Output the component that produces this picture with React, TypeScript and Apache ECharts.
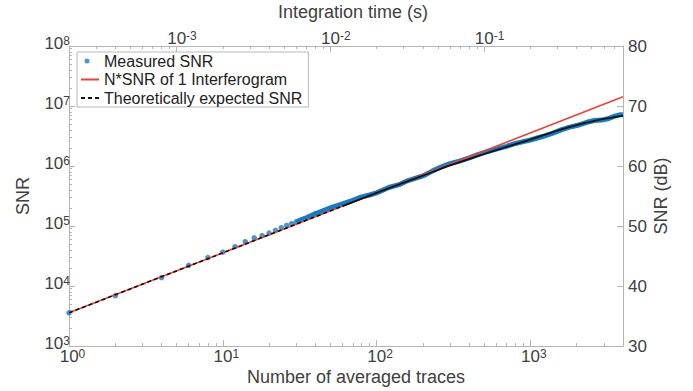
import React, { useEffect, useRef } from "react";
import * as echarts from "echarts";

// ---- data ----
const sparseTraces = [1, 2, 4, 6, 8, 10, 12, 14, 16, 18, 20, 22, 24, 26, 28, 30, 32, 34, 36, 38, 40];
const sparseSnr = [3570, 6900, 13800, 22100, 29800, 36600, 45200, 54700, 63500, 69000, 76200, 84500, 93800, 102000, 110000, 117500, 125000, 133000, 141000, 150000, 160000];

const denseTraces = [30, 35, 40, 50, 60, 70, 80, 90, 100, 120, 140, 160, 180, 200, 230, 260, 300, 350, 400, 450, 500, 600, 700, 800, 900, 1000, 1200, 1400, 1600, 1800, 2000, 2300, 2600, 2900, 3200, 3500, 3800, 4000];
const denseSnr = [117500, 136900, 160200, 200300, 234800, 267900, 306200, 328700, 357000, 438300, 488300, 571200, 627800, 681900, 821100, 949500, 1095600, 1220800, 1363700, 1534200, 1665400, 1908500, 2126600, 2376200, 2551100, 2709600, 3101600, 3538600, 4044100, 4446800, 4719500, 5304300, 5727000, 5818400, 6134700, 6709800, 7122200, 7154300];

const idealTraces = [1, 4000];
const idealSnr = [3570, 14280000];

const theoryDashTraces = [1, 60];
const theoryDashSnr = [3570, 214200];
const theoryTraces = [60, 100, 200, 300, 500, 700, 1000, 1500, 2000, 2500, 3000, 3500, 4000];
const theorySnr = [214200, 357000, 691800, 1023000, 1585000, 2089000, 2754000, 3890000, 4786000, 5495000, 6095000, 6531000, 6839000];

const bottomMajor = [1, 10, 100, 1000];
const bottomMinor = [2, 3, 4, 5, 6, 7, 8, 9, 20, 30, 40, 50, 60, 70, 80, 90, 200, 300, 400, 500, 600, 700, 800, 900, 2000, 3000];
const topMajor = [0.001, 0.01, 0.1];
const topMinor = [0.0003, 0.0004, 0.0005, 0.0006, 0.0007, 0.0008, 0.0009, 0.002, 0.003, 0.004, 0.005, 0.006, 0.007, 0.008, 0.009, 0.02, 0.03, 0.04, 0.05, 0.06, 0.07, 0.08, 0.09, 0.2, 0.3, 0.4, 0.5, 0.6, 0.7];
const leftMajor = [1e3, 1e4, 1e5, 1e6, 1e7, 1e8];
const leftMinor = [2e3, 3e3, 4e3, 5e3, 6e3, 7e3, 8e3, 9e3, 2e4, 3e4, 4e4, 5e4, 6e4, 7e4, 8e4, 9e4, 2e5, 3e5, 4e5, 5e5, 6e5, 7e5, 8e5, 9e5, 2e6, 3e6, 4e6, 5e6, 6e6, 7e6, 8e6, 9e6, 2e7, 3e7, 4e7, 5e7, 6e7, 7e7, 8e7, 9e7];

const AX = "#b4b4b4";
const TXT = "#404040";
const FONT = "'Liberation Sans', Arial, Helvetica, sans-serif";
const BLUE = "#1a7cc0";
const RED = "#e8433b";
const BLACK = "#111111";

const zip = (xs: number[], ys: number[]) => xs.map((x, i) => [x, ys[i]]);

const supRich = (padL: number, sPadB: number) => ({
  b: { fontSize: 17, lineHeight: 17, verticalAlign: "bottom", padding: [0, 0, 0, padL], color: TXT, fontFamily: FONT },
  s: { fontSize: 12, lineHeight: 12, verticalAlign: "top", padding: [0, 0, sPadB, 0], color: TXT, fontFamily: FONT },
});
const expLabel = (v: number) => `{b|10}{s|${Math.round(Math.log10(v))}}`;

const minorAxisX = (pos: string, min: number, max: number, ticks: number[]) => ({
  type: "log",
  logBase: 10,
  min,
  max,
  position: pos,
  axisLine: { show: false },
  axisTick: { show: true, inside: true, length: 3, lineStyle: { color: AX }, customValues: ticks },
  axisLabel: { show: false },
  splitLine: { show: false },
});

const hiddenSymbol = { opacity: 0, color: "rgba(0,0,0,0)", borderWidth: 0 };

const option: any = {
  animation: false,
  backgroundColor: "#ffffff",
  textStyle: { fontFamily: FONT },
  grid: { left: 69, right: 70, top: 46, bottom: 45, containLabel: false, outerBoundsMode: "none" },
  legend: {
    data: [
      { name: "Measured SNR", icon: "path://M0 0M18 14M3.5 7a2.5 2.5 0 1 0 5 0a2.5 2.5 0 1 0 -5 0z" },
      { name: "N*SNR of 1 Interferogram", itemStyle: hiddenSymbol },
      { name: "Theoretically expected SNR", itemStyle: hiddenSymbol },
    ],
    orient: "vertical",
    left: 77,
    top: 52,
    itemWidth: 18,
    itemHeight: 14,
    itemGap: 2.5,
    padding: [1, 6, 1, 3],
    borderColor: "#b8b8b8",
    borderWidth: 1,
    backgroundColor: "#ffffff",
    textStyle: { fontSize: 16, color: "#222", fontFamily: FONT, lineHeight: 16 },
  },
  xAxis: [
    {
      type: "log",
      logBase: 10,
      min: 1,
      max: 4000,
      position: "bottom",
      axisLine: { show: true, lineStyle: { color: AX, width: 1 } },
      axisTick: { show: true, inside: true, length: 6, lineStyle: { color: AX }, customValues: bottomMajor },
      axisLabel: { customValues: bottomMajor, formatter: expLabel, rich: supRich(7, 8), margin: 2 },
      splitLine: { show: false },
      name: "Number of averaged traces",
      nameLocation: "middle",
      nameGap: 22,
      nameMoveOverlap: false,
      nameTextStyle: { fontSize: 18, color: TXT, fontFamily: FONT, padding: [0, 0, 0, 20] },
    },
    minorAxisX("bottom", 1, 4000, bottomMinor),
    {
      type: "log",
      logBase: 10,
      min: 0.0002,
      max: 0.8,
      position: "top",
      axisLine: { show: true, lineStyle: { color: AX, width: 1 } },
      axisTick: { show: true, inside: true, length: 6, lineStyle: { color: AX }, customValues: topMajor },
      axisLabel: { customValues: topMajor, formatter: expLabel, rich: supRich(11, 8), margin: -0.5 },
      splitLine: { show: false },
      name: "Integration time (s)",
      nameLocation: "middle",
      nameGap: 25,
      nameMoveOverlap: false,
      nameTextStyle: { fontSize: 18, color: TXT, fontFamily: FONT, padding: [0, 0, 0, 14] },
    },
    minorAxisX("top", 0.0002, 0.8, topMinor),
  ],
  yAxis: [
    {
      type: "log",
      logBase: 10,
      min: 1000,
      max: 1e8,
      position: "left",
      axisLine: { show: true, lineStyle: { color: AX, width: 1 } },
      axisTick: { show: true, inside: true, length: 6, lineStyle: { color: AX }, customValues: leftMajor },
      axisLabel: { customValues: leftMajor, formatter: expLabel, rich: supRich(0, 14), padding: [0, 0, 6, 0], margin: -1 },
      splitLine: { show: false },
      name: "SNR",
      nameLocation: "middle",
      nameGap: 37,
      nameRotate: 90,
      nameMoveOverlap: false,
      nameTextStyle: { fontSize: 18, color: TXT, fontFamily: FONT },
    },
    {
      type: "log",
      logBase: 10,
      min: 1000,
      max: 1e8,
      position: "left",
      axisLine: { show: false },
      axisTick: { show: true, inside: true, length: 3, lineStyle: { color: AX }, customValues: leftMinor },
      axisLabel: { show: false },
      splitLine: { show: false },
    },
    {
      type: "value",
      min: 30,
      max: 80,
      interval: 10,
      position: "right",
      axisLine: { show: true, lineStyle: { color: AX, width: 1 } },
      axisTick: { show: true, inside: true, length: 6, lineStyle: { color: AX } },
      axisLabel: { fontSize: 17, color: TXT, fontFamily: FONT, margin: 5 },
      splitLine: { show: false },
      name: "SNR (dB)",
      nameLocation: "middle",
      nameGap: 29,
      nameRotate: 90,
      nameMoveOverlap: false,
      nameTextStyle: { fontSize: 18, color: TXT, fontFamily: FONT },
    },
  ],
  series: [
    {
      name: "measured-dense",
      type: "line",
      xAxisIndex: 0,
      yAxisIndex: 0,
      data: zip(denseTraces, denseSnr),
      symbol: "none",
      lineStyle: { color: BLUE, width: 5, join: "round" },
      z: 2,
    },
    {
      name: "Measured SNR",
      type: "scatter",
      xAxisIndex: 0,
      yAxisIndex: 0,
      data: zip(sparseTraces, sparseSnr),
      symbolSize: 5.5,
      itemStyle: { color: BLUE },
      z: 2,
    },
    {
      name: "N*SNR of 1 Interferogram",
      type: "line",
      xAxisIndex: 0,
      yAxisIndex: 0,
      data: zip(idealTraces, idealSnr),
      symbol: "none",
      lineStyle: { color: RED, width: 1.6 },
      itemStyle: { color: RED },
      z: 3,
    },
    {
      name: "Theoretically expected SNR",
      type: "line",
      xAxisIndex: 0,
      yAxisIndex: 0,
      data: zip(theoryDashTraces, theoryDashSnr),
      symbol: "none",
      lineStyle: { color: BLACK, width: 1.6, type: [4, 3] },
      itemStyle: { color: BLACK },
      z: 4,
    },
    {
      name: "theory-continued",
      type: "line",
      xAxisIndex: 0,
      yAxisIndex: 0,
      data: zip(theoryTraces, theorySnr),
      symbol: "none",
      smooth: 0.3,
      lineStyle: { color: BLACK, width: 1.8 },
      z: 4,
    },
  ],
};

export default function App() {
  const ref = useRef<HTMLDivElement>(null);
  useEffect(() => {
    const chart = echarts.init(ref.current as HTMLDivElement, null, { renderer: "svg" });
    chart.setOption(option);
    return () => chart.dispose();
  }, []);
  return (
    <div
      ref={ref}
      style={{ position: "fixed", left: 0, top: 0, width: 693, height: 391, background: "#fff" }}
    />
  );
}
